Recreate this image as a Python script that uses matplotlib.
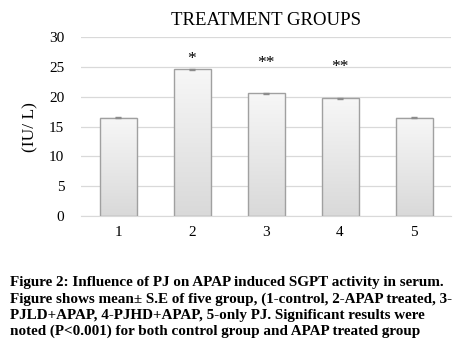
import numpy as np
import matplotlib
matplotlib.use("Agg")
import matplotlib.pyplot as plt

# 그룹별 평균 SGPT (IU/L) 와 표준오차
groups = ["1", "2", "3", "4", "5"]
means = [16.5, 24.6, 20.6, 19.8, 16.5]
errors = [0.1, 0.1, 0.1, 0.08, 0.1]
marks = ["", "*", "**", "**", ""]
mark_y = [0, 26.3, 25.7, 25.0, 0]
yticks = [0, 5, 10, 15, 20, 25, 30]

caption = ("Figure 2: Influence of PJ on APAP induced SGPT activity in serum.\n"
           "Figure shows mean\u00b1 S.E of five group, (1-control, 2-APAP treated, 3-\n"
           "PJLD+APAP, 4-PJHD+APAP, 5-only PJ. Significant results were\n"
           "noted (P<0.001) for both control group and APAP treated group")

plt.rcParams["font.family"] = ["Liberation Serif", "DejaVu Serif"]

fig = plt.figure(figsize=(4.71, 3.51), dpi=100)
ax = fig.add_axes([81 / 471, 1 - 216 / 351, 370 / 471, 178.7 / 351])

x = np.arange(len(groups))
bars = ax.bar(x, means, width=0.5, color="none", edgecolor="#a0a0a0",
              linewidth=1.0, zorder=3)
ax.errorbar(x, means, yerr=errors, fmt="none", ecolor="#8c8c8c",
            elinewidth=0.8, capsize=2, zorder=4)

# 막대 내부 그라데이션 (위 흰색 → 아래 회색)
grad = np.linspace(0, 1, 256).reshape(-1, 1)
cmap = matplotlib.colors.LinearSegmentedColormap.from_list("g", ["#d9d9d9", "#f7f7f7"])
for b in bars:
    x0, w, h = b.get_x(), b.get_width(), b.get_height()
    ax.imshow(grad, extent=(x0, x0 + w, 0, h), origin="lower", cmap=cmap,
              aspect="auto", zorder=2)

for xi, m, my in zip(x, marks, mark_y):
    if m:
        ax.text(xi, my, m, ha="center", va="center", fontsize=12.5)

ax.set_xlim(-0.5, 4.5)
ax.set_ylim(0, 30)
ax.set_yticks(yticks)
ax.set_xticks(x)
ax.set_xticklabels(groups)
ax.tick_params(length=0, labelsize=11, pad=7)
ax.tick_params(axis="y", pad=12)
ax.grid(True, axis="y", color="#d9d9d9", linewidth=0.9, zorder=0)
for s in ["top", "right", "left"]:
    ax.spines[s].set_visible(False)
ax.spines["bottom"].set_color("#d9d9d9")
ax.set_ylabel("(IU/ L)", fontsize=12.5, labelpad=8)
ax.set_title("TREATMENT GROUPS", fontsize=13.5, pad=9)

fig.text(10 / 471, 1 - 276 / 351, caption, ha="left", va="top", fontsize=10.9,
         fontweight="bold", linespacing=1.3)

fig.savefig("out.png", dpi=100)
